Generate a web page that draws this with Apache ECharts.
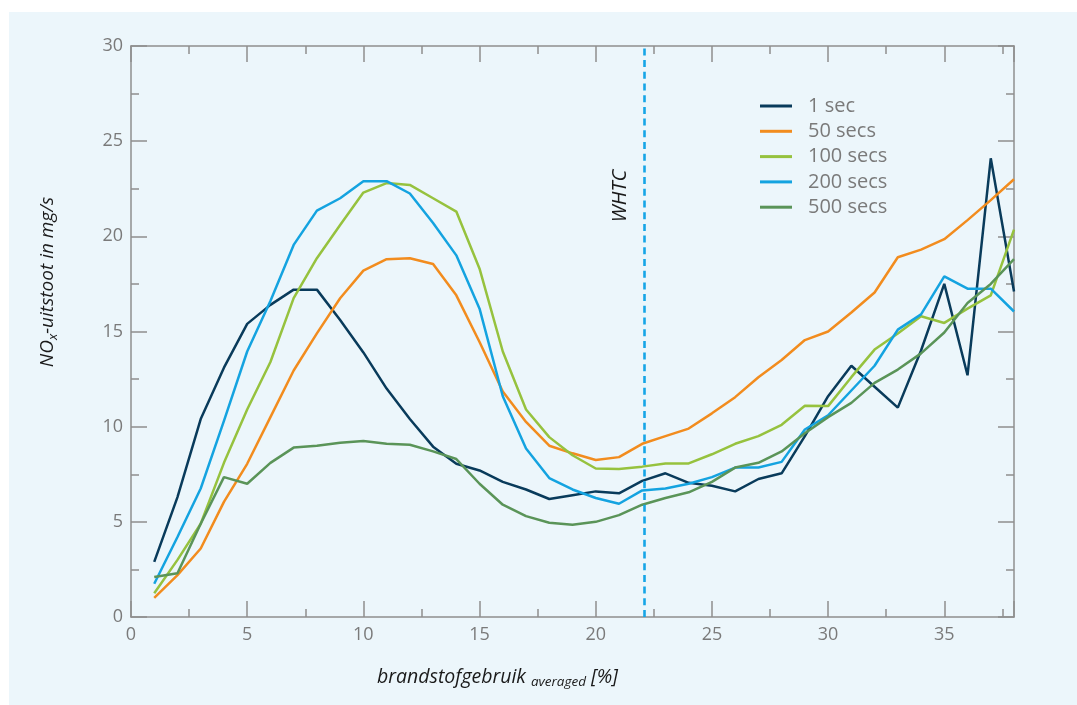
<!DOCTYPE html>
<html>
<head>
<meta charset="utf-8">
<script src="https://cdn.jsdelivr.net/npm/echarts@6/dist/echarts.min.js"></script>
<style>
html,body{margin:0;padding:0;background:#fff;}
#chart{width:1077px;height:705px;}
</style>
</head>
<body>
<div id="chart"></div>
<script>
const xValues = [1,2,3,4,5,6,7,8,9,10,11,12,13,14,15,16,17,18,19,20,21,22,23,24,25,26,27,28,29,30,31,32,33,34,35,36,37,38];
const sec1 = [2.9,6.3,10.4,13.1,15.4,16.4,17.2,17.2,15.6,13.9,12.0,10.4,8.95,8.05,7.7,7.1,6.7,6.2,6.4,6.6,6.5,7.15,7.55,7.05,6.9,6.6,7.25,7.55,9.5,11.6,13.2,12.1,11.0,14.0,17.5,12.7,24.1,17.1];
const sec50 = [1.0,2.2,3.6,6.05,8.05,10.5,12.95,14.9,16.75,18.2,18.8,18.85,18.55,16.9,14.45,11.85,10.25,9.0,8.6,8.25,8.4,9.1,9.5,9.9,10.7,11.55,12.6,13.5,14.55,15.0,16.0,17.05,18.9,19.3,19.85,20.85,21.9,23.0];
const sec100 = [1.25,3.0,4.9,8.1,10.9,13.4,16.75,18.85,20.6,22.3,22.8,22.7,22.0,21.3,18.3,13.95,10.9,9.45,8.5,7.8,7.78,7.9,8.07,8.07,8.55,9.1,9.5,10.1,11.1,11.08,12.6,14.05,14.9,15.8,15.45,16.2,16.9,20.35];
const sec200 = [1.75,4.2,6.75,10.3,13.95,16.6,19.55,21.35,22.0,22.9,22.9,22.25,20.7,19.0,16.2,11.6,8.85,7.3,6.7,6.25,5.95,6.65,6.75,7.0,7.35,7.85,7.85,8.15,9.85,10.6,11.9,13.2,15.1,15.9,17.9,17.25,17.25,16.05];
const sec500 = [2.1,2.3,4.9,7.35,7.0,8.1,8.9,9.0,9.15,9.25,9.1,9.05,8.7,8.3,7.0,5.9,5.3,4.95,4.85,5.0,5.35,5.9,6.25,6.55,7.1,7.85,8.1,8.7,9.65,10.5,11.25,12.3,13.0,13.85,14.95,16.5,17.5,18.8];
const seriesNames = ['1 sec','50 secs','100 secs','200 secs','500 secs'];
const seriesValues = [sec1, sec50, sec100, sec200, sec500];
const seriesColors = ['#093b5b','#f28c1e','#96c23e','#14a3e0','#5a9458'];
const whtcX = 22.1;
const whtcLabel = 'WHTC';

const FONT = 'Open Sans';
const axisColor = '#8f8f8f';
const labelColor = '#7a7a7a';

function axisCommon(showLabels, pos){
  return {
    type:'value', position:pos,
    axisLine:{show:true, onZero:false, lineStyle:{color:axisColor, width:1.5}},
    axisTick:{show:true, inside:true, length:16, lineStyle:{color:axisColor, width:1.5}},
    minorTick:{show:true, splitNumber:2, length:8, lineStyle:{color:axisColor, width:1.5}},
    splitLine:{show:false},
    axisLabel:{show:showLabels, color:labelColor, fontSize:18, fontFamily:FONT, showMaxLabel:false}
  };
}

const xBottom = Object.assign(axisCommon(true,'bottom'), {min:0, max:38, interval:5});
xBottom.axisLabel.margin = 9;
const xTop = Object.assign(axisCommon(false,'top'), {min:0, max:38, interval:5});
const yLeft = Object.assign(axisCommon(true,'left'), {min:0, max:30, interval:5});
yLeft.axisLabel.margin = 8;
yLeft.axisLabel.showMaxLabel = true;
const yRight = Object.assign(axisCommon(false,'right'), {min:0, max:30, interval:5});

const series = seriesNames.map((n,i)=>({
  name:n, type:'line', xAxisIndex:0, yAxisIndex:0,
  data: xValues.map((x,j)=>[x, seriesValues[i][j]]),
  showSymbol:false, symbol:'none',
  lineStyle:{color:seriesColors[i], width:2.5},
  itemStyle:{color:seriesColors[i]},
  z: 3
}));
series.push({
  type:'line', data:[], xAxisIndex:0, yAxisIndex:0, silent:true,
  markLine:{silent:true, symbol:['none','none'], label:{show:false},
    lineStyle:{color:'#16a5e6', type:[7,4.7], width:2.6},
    data:[{xAxis:whtcX}]},
  z: 4
});

const chart = echarts.init(document.getElementById('chart'), null, {renderer:'canvas'});
chart.setOption({
  backgroundColor:'#ffffff',
  animation:false,
  grid:{left:131, right:63, top:46, bottom:88, containLabel:false},
  xAxis:[xBottom, xTop],
  yAxis:[yLeft, yRight],
  legend:{
    orient:'vertical', left:760, top:96, padding:0,
    itemWidth:32, itemHeight:3, icon:'rect', itemGap:5.3,
    data: seriesNames,
    textStyle:{color:labelColor, fontSize:20, fontFamily:FONT, lineHeight:20, padding:[0,0,0,11]}
  },
  graphic:[
    {type:'rect', z:-100, silent:true, shape:{x:9, y:12, width:1068, height:693}, style:{fill:'#ecf6fb'}},
    {type:'text', z:100, x:48, y:282, rotation:Math.PI/2,
      style:{text:'{a|NO}{b|x}{a|-uitstoot in mg/s}', align:'center', verticalAlign:'middle', fill:'#1a1a1a',
        rich:{a:{fontSize:19, fontStyle:'italic', fontFamily:FONT, fill:'#1a1a1a', lineHeight:22},
              b:{fontSize:13, fontStyle:'italic', fontFamily:FONT, fill:'#1a1a1a', lineHeight:22, padding:[10,0,0,0]}}}},
    {type:'text', z:100, x:377, y:677,
      style:{text:'{a|brandstofgebruik }{b|averaged}{a| [%]}', align:'left', verticalAlign:'middle', fill:'#1a1a1a',
        rich:{a:{fontSize:19.5, fontStyle:'italic', fontFamily:FONT, fill:'#1a1a1a', lineHeight:22},
              b:{fontSize:13.5, fontStyle:'italic', fontFamily:FONT, fill:'#1a1a1a', lineHeight:22, padding:[10,0,0,0]}}}},
    {type:'text', z:100, x:620, y:196, rotation:Math.PI/2,
      style:{text:whtcLabel, align:'center', verticalAlign:'middle', fill:'#1a1a1a', fontSize:20, fontStyle:'italic', fontFamily:FONT}}
  ],
  series: series
});
</script>
</body>
</html>
